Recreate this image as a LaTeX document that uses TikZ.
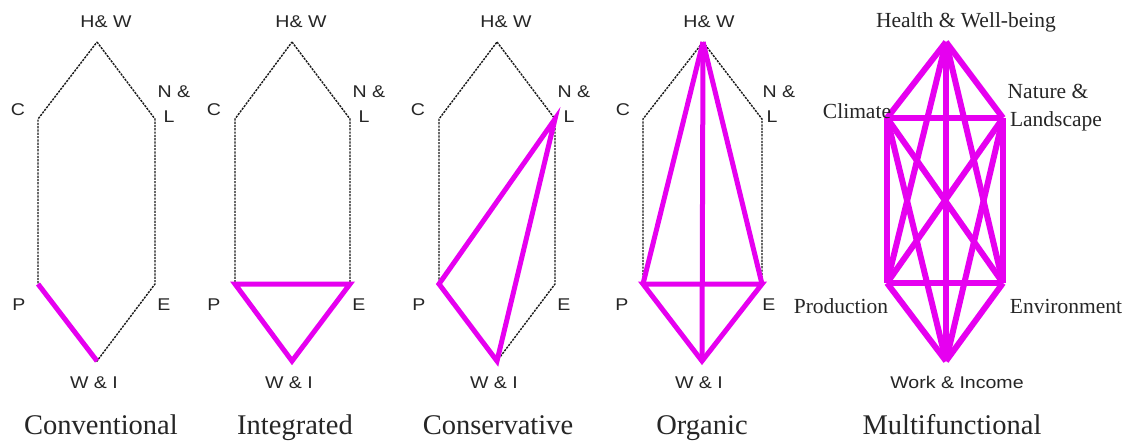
\documentclass[tikz,border=0pt]{standalone}
\usepackage{graphicx}
\usepackage{fontspec}
\setmainfont{Liberation Serif}
\newfontfamily\lsans{Liberation Sans}
\definecolor{magcol}{RGB}{230,0,240}
\newcommand{\wsans}[1]{\scalebox{1.15}[1]{#1}}
\begin{document}
\begin{tikzpicture}[x=1pt,y=-1pt,
  hexedge/.style={draw=black!90, line width=1.4pt, dash pattern=on 2.2pt off 1.1pt},
  mag/.style={draw=magcol, line width=5pt},
  magb/.style={draw=magcol, line width=6pt},
  lab/.style={font=\lsans\fontsize{17}{19}\selectfont, text=black!85, inner sep=0pt, anchor=base},
  slab/.style={font=\fontsize{21.5}{24}\selectfont, text=black!85, inner sep=0pt, anchor=base},
  title/.style={font=\fontsize{28.5}{32}\selectfont, text=black!85, inner sep=0pt, anchor=base}]
\useasboundingbox[fill=white] (0,0) rectangle (1127,440);
% panel coordinates
\foreach \n/\hx/\lx/\rx/\bx in {a/97/38/155/97, b/292/235/350/292, c/497/439/555/497, d/703/643/762/702}{
  \coordinate (\n hw) at (\hx,42);
  \coordinate (\n c) at (\lx,119);
  \coordinate (\n nl) at (\rx,119);
  \coordinate (\n p) at (\lx,284);
  \coordinate (\n e) at (\rx,284);
  \coordinate (\n wi) at (\bx,361);
}
\coordinate (ehw) at (946,42);
\coordinate (ec) at (887,118);
\coordinate (enl) at (1003,118);
\coordinate (ep) at (887,283);
\coordinate (ee) at (1003,283);
\coordinate (ewi) at (946,361);
% dashed hexagons
\foreach \n in {a,b,c,d}{
  \draw[hexedge] (\n hw) -- (\n nl) -- (\n e) -- (\n wi) -- (\n p) -- (\n c) -- cycle;
}
% panel 1
\draw[mag] (ap) -- (awi);
% panel 2
\draw[mag] (bp) -- (be) -- (bwi) -- cycle;
% panel 3
\draw[mag] (cnl) -- (cp) -- (cwi) -- cycle;
% panel 4
\draw[mag] (dhw) -- (dp);
\draw[mag] (dhw) -- (de);
\draw[mag] (dhw) -- (dwi);
\draw[mag] (dp) -- (de) -- (dwi) -- cycle;
% panel 5 complete graph
\foreach \u/\v in {ehw/ec, ehw/enl, ehw/ep, ehw/ee, ehw/ewi,
                   ec/enl, ec/ep, ec/ee, ec/ewi,
                   enl/ep, enl/ee, enl/ewi,
                   ep/ee, ep/ewi, ee/ewi}{
  \draw[magb] (\u) -- (\v);
}
% labels panels 1-4
\foreach \n/\hx/\cx/\nx/\lx/\px/\ex/\wx/\tx/\tt in {
   a/106/18/174/169/19/164/94/101/Conventional,
   b/301/214/369/364/214/359/289/295/Integrated,
   c/506/418/574/569/419/564/494/498/Conservative,
   d/709/623/779/772/622/769/699/702/Organic}{
  \node[lab] (\n Lhw) at (\hx,27) {\wsans{H\& W}};
  \node[lab] (\n Lc) at (\cx,115) {\wsans{C}};
  \node[lab] (\n Ln) at (\nx,97) {\wsans{N \&}};
  \node[lab] (\n Ll) at (\lx,122) {\wsans{L}};
  \node[lab] (\n Lp) at (\px,310) {\wsans{P}};
  \node[lab] (\n Le) at (\ex,310) {\wsans{E}};
  \node[lab] (\n Lw) at (\wx,388) {\wsans{W \& I}};
  \node[title] (\n T) at (\tx,434) {\tt};
}
% panel 5 labels
\node[slab] (eLhw) at (966,27) {Health \& Well-being};
\node[slab] (eLn) at (1048,98) {Nature \&};
\node[slab] (eLl) at (1056,126) {Landscape};
\node[slab] (eLc) at (857,118) {Climate};
\node[slab] (eLp) at (841,313) {Production};
\node[slab] (eLe) at (1066,313) {Environment};
\node[lab] (eLw) at (957,388) {\wsans{Work \& Income}};
\node[title] (eT) at (952,434) {Multifunctional};
\end{tikzpicture}
\end{document}
